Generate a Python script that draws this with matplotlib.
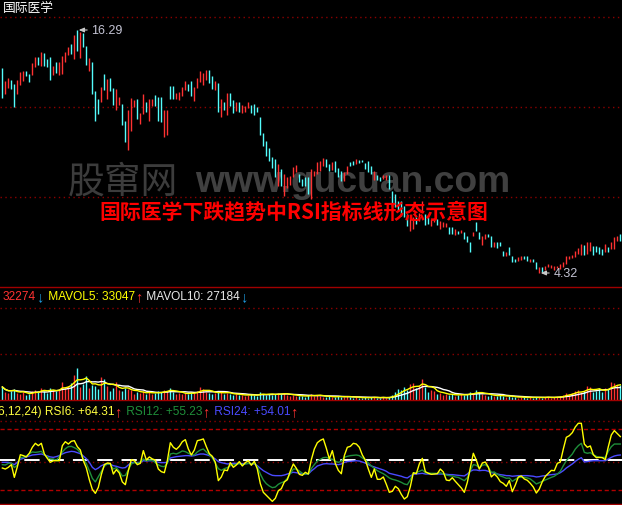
import matplotlib
matplotlib.use('Agg')
import matplotlib.pyplot as plt
from matplotlib.lines import Line2D
import numpy as np
import pandas as pd

plt.rcParams['lines.scale_dashes'] = False

# ---------------- data ----------------
stock_name = '国际医学'
chart_title = '国际医学下跌趋势中RSI指标线形态示意图'
watermark_cn = '股窜网'
watermark_en = 'www.gucuan.com'

highs = [
    14.42, 13.78, 13.93, 13.83, 13.63, 13.83, 14.22, 14.27, 14.27, 14.12,
    14.66, 14.96, 14.96, 15.21, 15.16, 14.86, 14.96, 14.52, 14.71, 14.71,
    15.01, 15.21, 15.45, 15.60, 16.04, 16.29, 16.19, 16.14, 15.50, 14.91,
    14.71, 13.29, 12.89, 13.48, 14.12, 13.88, 13.93, 13.43, 13.38, 12.99,
    12.64, 11.81, 12.35, 12.94, 12.84, 12.89, 12.20, 13.14, 12.74, 12.89,
    12.89, 13.09, 12.99, 12.99, 12.35, 12.35, 13.53, 13.53, 13.19, 13.24,
    13.48, 13.78, 13.63, 13.78, 13.48, 13.93, 14.27, 14.17, 14.32, 14.32,
    14.02, 13.78, 13.68, 12.89, 12.74, 13.19, 13.19, 12.84, 12.74, 12.74,
    12.60, 12.55, 12.74, 12.60, 12.64, 12.50, 12.00, 11.22, 10.82, 10.48,
    10.03, 9.94, 9.69, 9.44, 9.20, 9.05, 9.10, 9.54, 9.64, 9.20,
    8.95, 9.05, 9.05, 9.44, 9.34, 9.79, 9.84, 9.98, 9.94, 9.69,
    9.79, 9.84, 9.49, 9.34, 9.30, 9.59, 9.79, 9.84, 9.94, 9.89,
    9.89, 9.74, 9.84, 9.59, 9.34, 9.15, 9.05, 9.15, 9.15, 9.15,
    8.36, 8.21, 7.87, 7.87, 7.62, 7.23, 7.13, 7.08, 7.08, 7.28,
    7.87, 7.23, 7.08, 6.98, 7.03, 6.98, 6.88, 6.83, 6.78, 6.59,
    6.59, 6.49, 6.39, 6.44, 6.34, 6.14, 5.85, 6.34, 6.83, 6.34,
    6.14, 6.24, 6.24, 6.14, 5.85, 5.85, 5.85, 5.40, 5.35, 5.60,
    5.16, 5.01, 5.11, 5.16, 5.16, 5.16, 5.01, 5.01, 4.86, 4.62,
    4.62, 4.66, 4.76, 4.71, 4.66, 4.66, 4.76, 4.86, 5.16, 5.16,
    5.21, 5.40, 5.55, 5.75, 5.70, 5.85, 5.85, 5.65, 5.65, 5.60,
    5.50, 5.75, 5.60, 5.85, 6.09, 6.14, 6.24,
]
lows = [
    12.94, 13.14, 13.43, 13.38, 12.50, 13.14, 13.58, 13.78, 14.02, 13.73,
    14.07, 14.47, 14.57, 14.52, 14.52, 14.47, 13.83, 14.07, 14.17, 14.07,
    14.12, 14.71, 15.06, 15.11, 14.86, 15.26, 14.91, 15.45, 14.57, 14.27,
    13.14, 11.81, 12.15, 12.74, 13.33, 12.89, 13.29, 12.60, 12.35, 12.60,
    11.61, 10.77, 10.38, 11.32, 12.50, 11.91, 11.66, 12.15, 12.25, 11.81,
    12.55, 12.55, 11.81, 11.76, 11.02, 11.12, 12.89, 12.89, 12.89, 12.84,
    13.04, 13.33, 13.29, 13.04, 12.79, 13.43, 13.73, 13.58, 13.83, 13.68,
    13.38, 13.33, 12.25, 12.00, 12.35, 12.10, 12.55, 12.20, 12.30, 12.25,
    12.20, 12.25, 12.45, 12.20, 12.10, 12.25, 11.12, 10.58, 10.08, 9.84,
    9.49, 9.05, 8.61, 8.61, 8.11, 8.51, 8.65, 9.05, 9.30, 8.80,
    8.61, 8.61, 8.21, 7.97, 9.10, 9.20, 9.34, 9.59, 9.54, 9.34,
    9.39, 9.30, 9.05, 8.85, 8.85, 9.20, 9.59, 9.64, 9.69, 9.74,
    9.79, 9.44, 9.30, 9.20, 8.90, 8.90, 8.85, 8.95, 8.90, 8.46,
    7.62, 7.57, 7.37, 7.13, 7.08, 6.64, 6.39, 6.49, 6.73, 6.88,
    7.33, 6.68, 6.73, 6.64, 6.83, 6.68, 6.49, 6.59, 6.59, 6.24,
    6.24, 6.19, 6.24, 6.29, 5.99, 5.85, 5.35, 6.14, 6.39, 5.99,
    5.70, 5.99, 6.09, 5.60, 5.60, 5.55, 5.65, 5.16, 5.16, 5.21,
    4.86, 4.86, 4.91, 4.96, 5.01, 4.91, 4.86, 4.86, 4.52, 4.32,
    4.37, 4.47, 4.62, 4.57, 4.47, 4.57, 4.52, 4.62, 4.76, 5.01,
    5.06, 5.11, 5.26, 5.21, 5.21, 5.26, 5.40, 5.21, 5.35, 5.26,
    5.21, 5.35, 5.35, 5.50, 5.50, 5.90, 5.90,
]
# 1 = up day (red), 0 = down day (cyan)
up = [
    0, 1, 1, 0, 0, 1, 1, 1, 0, 0,
    1, 1, 0, 1, 0, 0, 0, 1, 0, 1,
    1, 1, 1, 0, 1, 0, 1, 0, 0, 1,
    0, 0, 0, 1, 0, 1, 0, 0, 1, 1,
    0, 0, 1, 1, 1, 0, 1, 1, 0, 1,
    1, 0, 0, 0, 1, 1, 0, 0, 1, 1,
    1, 1, 0, 0, 1, 1, 1, 1, 1, 0,
    0, 1, 0, 1, 0, 1, 0, 0, 1, 0,
    1, 1, 1, 0, 0, 0, 0, 0, 0, 0,
    0, 0, 1, 0, 1, 1, 1, 1, 1, 0,
    0, 0, 0, 1, 1, 1, 1, 1, 0, 0,
    1, 0, 0, 0, 1, 1, 0, 0, 1, 0,
    0, 0, 0, 0, 1, 0, 0, 1, 1, 0,
    0, 0, 0, 0, 0, 0, 1, 1, 0, 1,
    1, 0, 0, 1, 1, 0, 1, 1, 1, 0,
    0, 1, 0, 1, 0, 0, 0, 1, 0, 0,
    1, 1, 0, 0, 1, 0, 0, 0, 1, 0,
    0, 0, 1, 1, 0, 0, 1, 0, 0, 1,
    0, 1, 1, 1, 1, 1, 1, 1, 1, 1,
    1, 1, 1, 1, 0, 1, 1, 0, 0, 0,
    0, 1, 0, 1, 1, 1, 0,
]
volume = [
    28300, 17400, 15200, 19600, 23900, 15200, 13000, 17400, 10900, 13000,
    19600, 21700, 17400, 26100, 19600, 15200, 26100, 21700, 19600, 23900,
    39100, 28300, 30400, 37000, 54300, 69600, 28300, 34800, 52200, 26100,
    32600, 30400, 23900, 50000, 45700, 30400, 19600, 26100, 39100, 21700,
    19600, 26100, 23900, 21700, 13000, 17400, 15200, 19600, 13000, 17400,
    13000, 15200, 19600, 17400, 21700, 19600, 26100, 17400, 13000, 15200,
    13000, 15200, 13000, 17400, 15200, 19600, 28300, 23900, 17400, 15200,
    13000, 15200, 19600, 17400, 13000, 15200, 13000, 10900, 13000, 10900,
    10900, 8700, 10900, 13000, 10900, 8700, 17400, 13000, 10900, 13000,
    10900, 13000, 15200, 13000, 15200, 10900, 8700, 10900, 8700, 8700,
    8700, 6500, 10900, 13000, 8700, 10900, 8700, 6500, 6500, 8700,
    6500, 6500, 8700, 6500, 6500, 8700, 6500, 4300, 6500, 4300,
    4300, 6500, 4300, 6500, 6500, 4300, 4300, 6500, 4300, 6500,
    10900, 17400, 23900, 21700, 28300, 21700, 34800, 37000, 26100, 30400,
    45700, 28300, 17400, 21700, 19600, 13000, 15200, 10900, 13000, 10900,
    13000, 8700, 10900, 13000, 10900, 13000, 17400, 13000, 21700, 15200,
    13000, 10900, 8700, 10900, 8700, 8700, 10900, 8700, 6500, 8700,
    6500, 6500, 4300, 6500, 6500, 4300, 6500, 4300, 6500, 6500,
    4300, 6500, 6500, 4300, 6500, 6500, 8700, 10900, 15200, 13000,
    15200, 19600, 21700, 17400, 19600, 30400, 28300, 17400, 19600, 26100,
    17400, 26100, 24100, 39200, 36800, 32900, 32300,
]
rsi6 = [
    42.1, 41.1, 42.8, 45.4, 32.9, 43.4, 55.2, 54.3, 53.0, 56.6,
    62.5, 66.4, 64.1, 66.4, 55.9, 51.6, 47.7, 49.3, 49.3, 49.3,
    64.1, 68.0, 65.7, 68.4, 69.0, 63.1, 59.8, 49.3, 42.1, 30.6,
    21.1, 17.2, 23.1, 35.6, 45.4, 47.0, 46.7, 36.2, 40.5, 37.2,
    28.4, 25.7, 39.5, 50.3, 49.3, 45.4, 46.7, 59.2, 50.0, 53.0,
    51.0, 50.0, 41.1, 38.5, 37.5, 49.3, 67.0, 62.5, 60.5, 63.4,
    68.0, 70.0, 60.8, 54.9, 59.8, 69.0, 69.7, 70.7, 63.1, 56.2,
    53.6, 47.7, 29.7, 33.3, 40.2, 39.5, 47.4, 42.8, 45.1, 48.4,
    44.1, 47.4, 49.3, 44.8, 48.7, 41.1, 26.7, 18.2, 15.2, 12.3,
    9.3, 12.3, 19.8, 21.8, 28.4, 30.6, 39.2, 46.1, 41.8, 35.9,
    34.9, 37.9, 36.2, 50.3, 60.8, 67.0, 69.3, 70.7, 61.5, 51.0,
    59.2, 46.4, 39.8, 36.5, 54.3, 62.5, 63.4, 66.4, 65.7, 62.5,
    54.9, 50.0, 41.1, 32.9, 41.1, 31.0, 31.0, 33.3, 26.1, 18.2,
    19.2, 24.1, 21.8, 16.2, 11.6, 13.9, 23.8, 37.5, 36.5, 46.1,
    51.6, 38.5, 36.9, 35.9, 36.2, 36.5, 41.1, 38.2, 30.3, 29.7,
    32.6, 29.0, 25.7, 22.5, 18.2, 28.0, 42.1, 56.6, 49.7, 41.1,
    47.0, 48.0, 43.1, 33.3, 36.2, 33.3, 28.7, 27.0, 24.1, 29.7,
    18.8, 25.4, 33.3, 34.3, 31.3, 30.0, 27.0, 23.4, 17.5, 21.5,
    28.7, 33.9, 36.9, 39.8, 39.5, 46.7, 48.0, 60.8, 72.3, 73.9,
    76.9, 82.5, 86.1, 86.1, 65.7, 62.5, 63.8, 55.2, 52.3, 52.6,
    52.3, 50.3, 63.1, 74.6, 78.9, 75.9, 73.0,
]
rsi12 = [
    45.4, 45.1, 46.7, 47.0, 42.5, 45.1, 52.6, 52.6, 53.9, 56.2,
    57.9, 57.5, 57.9, 58.5, 55.2, 53.0, 51.0, 51.0, 49.7, 53.3,
    57.9, 61.1, 63.1, 63.4, 62.1, 60.5, 57.2, 51.0, 46.4, 39.5,
    32.0, 28.4, 33.6, 38.9, 43.8, 46.1, 45.7, 41.1, 42.5, 38.9,
    34.3, 34.9, 40.2, 46.1, 47.4, 46.7, 47.7, 51.0, 49.3, 50.0,
    49.7, 47.4, 45.1, 43.8, 43.4, 46.7, 55.9, 56.6, 55.9, 57.2,
    58.9, 58.2, 56.6, 55.2, 54.9, 57.9, 59.8, 60.8, 57.9, 54.9,
    52.0, 46.7, 41.5, 39.8, 41.5, 42.5, 44.4, 45.4, 45.7, 46.4,
    45.4, 46.1, 46.7, 46.1, 46.7, 43.4, 36.2, 30.3, 26.7, 24.4,
    22.8, 23.4, 26.1, 27.7, 28.7, 32.0, 36.5, 41.1, 41.1, 39.2,
    36.9, 36.2, 36.2, 41.5, 45.4, 49.0, 50.7, 52.3, 52.6, 51.3,
    50.7, 48.7, 47.7, 48.7, 52.6, 53.6, 54.3, 54.6, 54.9, 54.3,
    52.0, 50.0, 47.0, 44.1, 41.8, 39.5, 37.9, 36.5, 34.6, 32.3,
    31.0, 30.3, 29.3, 28.0, 26.4, 25.7, 30.6, 36.9, 37.5, 38.9,
    40.2, 37.5, 37.2, 36.9, 36.9, 36.9, 37.5, 36.2, 35.2, 34.6,
    34.3, 33.3, 32.9, 31.3, 29.7, 32.6, 39.5, 45.4, 44.8, 42.1,
    44.8, 45.4, 42.8, 37.9, 38.2, 35.9, 34.3, 33.3, 32.0, 32.3,
    29.0, 31.0, 32.9, 32.9, 32.9, 32.3, 31.3, 29.0, 26.4, 27.7,
    29.0, 30.3, 31.6, 32.9, 34.0, 36.2, 38.9, 44.4, 49.3, 52.6,
    55.9, 60.8, 64.1, 66.4, 57.5, 56.6, 57.2, 55.2, 53.6, 52.6,
    52.6, 52.6, 58.5, 63.1, 65.7, 65.7, 65.7,
]
rsi24 = [
    47.7, 47.7, 47.7, 46.7, 45.4, 47.7, 50.7, 51.6, 53.0, 53.9,
    54.9, 55.2, 55.6, 55.9, 54.9, 53.9, 53.0, 52.6, 53.3, 54.3,
    55.9, 57.2, 57.9, 58.5, 58.2, 57.2, 56.2, 53.9, 51.3, 47.7,
    42.8, 40.5, 42.1, 44.4, 45.7, 46.1, 45.7, 44.4, 43.8, 42.8,
    42.1, 42.5, 45.1, 47.4, 47.7, 47.4, 47.7, 49.3, 49.0, 49.3,
    49.3, 48.7, 47.7, 47.4, 47.4, 47.7, 52.0, 52.6, 53.3, 53.6,
    53.9, 54.3, 54.3, 53.9, 54.3, 55.2, 55.9, 55.9, 55.2, 54.3,
    53.0, 51.0, 48.4, 47.4, 46.7, 46.1, 46.4, 46.7, 46.7, 46.7,
    46.4, 46.4, 46.7, 46.4, 46.1, 44.4, 41.8, 39.5, 37.9, 36.2,
    34.9, 34.6, 34.6, 34.6, 35.2, 36.2, 37.2, 37.9, 37.5, 36.9,
    36.5, 36.2, 36.2, 39.2, 41.5, 44.1, 45.1, 46.1, 46.4, 46.1,
    46.1, 45.7, 45.4, 46.1, 47.7, 48.4, 48.7, 49.0, 49.3, 49.0,
    48.0, 47.0, 45.4, 44.1, 43.1, 42.1, 41.1, 40.2, 38.9, 36.9,
    36.2, 35.6, 34.9, 34.0, 32.9, 32.3, 34.3, 35.9, 36.2, 36.5,
    36.9, 36.2, 36.2, 36.2, 36.2, 36.2, 36.2, 36.2, 35.9, 35.6,
    35.6, 35.2, 34.9, 34.6, 34.3, 36.2, 38.9, 40.2, 40.2, 39.5,
    39.8, 39.8, 38.9, 37.5, 37.2, 36.2, 35.6, 35.2, 34.6, 34.6,
    34.0, 34.3, 34.6, 34.6, 34.6, 34.6, 34.3, 34.0, 33.3, 33.6,
    34.3, 34.6, 35.2, 35.6, 35.9, 36.2, 37.5, 39.5, 42.1, 44.1,
    46.1, 48.7, 50.7, 52.3, 48.0, 48.4, 49.0, 49.3, 49.3, 49.3,
    49.3, 49.3, 51.0, 52.6, 53.9, 54.6, 54.9,
]

vol_header = [('32274', '#ff3232'), ('\u2193', '#1e9be0'),
              (' MAVOL5: 33047', '#ffff00'), ('\u2191', '#ff3232'),
              (' MAVOL10: 27184', '#e8e8e8'), ('\u2193', '#1e9be0')]
rsi_header = [('6,12,24) RSI6: +64.31', '#ffff40'), ('\u2191', '#ff3232'),
              (' RSI12: +55.23', '#1f8f3a'), ('\u2191', '#ff3232'),
              (' RSI24: +54.01', '#4a4aff'), ('\u2191', '#ff3232')]

# ---------------- figure ----------------
W, H = 622, 506
RED = '#ff3232'
CYAN = '#54fcfc'
GRID = '#8b0000'
SANS = ['Liberation Sans', 'DejaVu Sans']
CJK = ['Noto Sans CJK SC', 'DejaVu Sans']

fig = plt.figure(figsize=(W / 100, H / 100), dpi=100, facecolor='black')


def panel(top, bottom):
    ax = fig.add_axes([0, 1 - bottom / H, 1, (bottom - top) / H])
    ax.set_facecolor('black')
    ax.set_xticks([])
    ax.set_yticks([])
    for s in ax.spines.values():
        s.set_visible(False)
    ax.set_xlim(-0.78, 206.56)
    return ax


ax_k = panel(0, 288)
ax_v = panel(288, 401)
ax_r = panel(401, 506)

idx = np.arange(len(highs))
colors = np.where(np.array(up) == 1, RED, CYAN)
dotted = (0, (1, 2.5))

# price panel
ax_k.set_ylim(3.63, 17.817)
for lvl in (16.93, 12.50, 8.06):
    ax_k.axhline(lvl, color=GRID, lw=1.0, linestyle=dotted, zorder=1)
wm_y = 1 - 182 / 288
ax_k.text(68 / W, wm_y, watermark_cn, color='#3c3c3c', transform=ax_k.transAxes,
          fontsize=26.5, family=CJK, va='center', ha='left', zorder=1)
ax_k.text(195 / W, wm_y, watermark_en, color='#404040', transform=ax_k.transAxes,
          fontsize=26.8, family=SANS, fontweight='bold', va='center', ha='left', zorder=1)
ax_k.vlines(idx, lows, highs, colors=colors, lw=1.0, zorder=2)
ax_k.text(293.5 / W, 1 - 212 / 288, chart_title, color='#ff0000', transform=ax_k.transAxes,
          fontsize=15, family=CJK, fontweight='bold', ha='center', va='center', zorder=3)

hi_i = int(np.argmax(highs))
lo_i = int(np.argmin(lows))
for xi, val in ((hi_i, max(highs)), (lo_i, min(lows))):
    ax_k.annotate(f'{val:.2f}', xy=(xi, val), xytext=(14, 0),
                  textcoords='offset pixels', color='#c4c4d4', fontsize=9, family=SANS,
                  va='center', ha='left', zorder=4,
                  arrowprops=dict(arrowstyle='-|>,head_length=0.35,head_width=0.15',
                                  color='#c8c8c8', lw=0.8, shrinkA=1, shrinkB=1))

# volume panel
vol = pd.Series(volume, dtype=float)
ax_v.set_ylim(0, 245600)
for lvl in (100000, 200000):
    ax_v.axhline(lvl, color=GRID, lw=1.0, linestyle=dotted, zorder=1)
ax_v.vlines(idx, 0, volume, colors=colors, lw=1.0, zorder=2)
ax_v.plot(idx, vol.rolling(10, min_periods=1).mean(), color='white', lw=1.0, zorder=3)
ax_v.plot(idx, vol.rolling(5, min_periods=1).mean(), color='#ffff00', lw=1.0, zorder=4)

# RSI panel
ax_r.set_ylim(5.73, 109.0)
for lvl in (88.3, 47.7):
    ax_r.axhline(lvl, color=GRID, lw=1.0, linestyle=dotted, zorder=1)
for lvl in (80, 20):
    ax_r.axhline(lvl, color='#b00000', lw=1.0, linestyle=(0, (3, 2)), zorder=1)
ax_r.axhline(50, color='white', lw=1.4, linestyle=(0, (11, 6.5)), zorder=1)
ax_r.plot(idx, rsi24, color='#4a4aff', lw=1.0, zorder=2)
ax_r.plot(idx, rsi12, color='#1f8f3a', lw=1.0, zorder=3)
ax_r.plot(idx, rsi6, color='#ffff00', lw=1.0, zorder=4)

# panel separators
for y in (288, 401, 504.5):
    fig.add_artist(Line2D([0, 1], [1 - y / H, 1 - y / H], transform=fig.transFigure,
                          color='#a00000', lw=1.0))

# headers
renderer = fig.canvas.get_renderer()


def draw_pieces(x_px, y_px, pieces, size):
    x = x_px
    for s, c in pieces:
        arrow = s in ('\u2191', '\u2193')
        t = fig.text(x / W, 1 - y_px / H, s, color=c,
                     fontsize=size + 2 if arrow else size, family=SANS,
                     ha='left', va='center')
        x += t.get_window_extent(renderer).width + (1 if arrow else 0)


fig.text(3 / W, 1 - 8.5 / H, stock_name, color='white', fontsize=9.2, family=CJK,
         ha='left', va='center')
draw_pieces(3, 297, vol_header, 8.6)
draw_pieces(-2, 412, rsi_header, 8.6)

fig.savefig('out.png', dpi=100, facecolor='black')
